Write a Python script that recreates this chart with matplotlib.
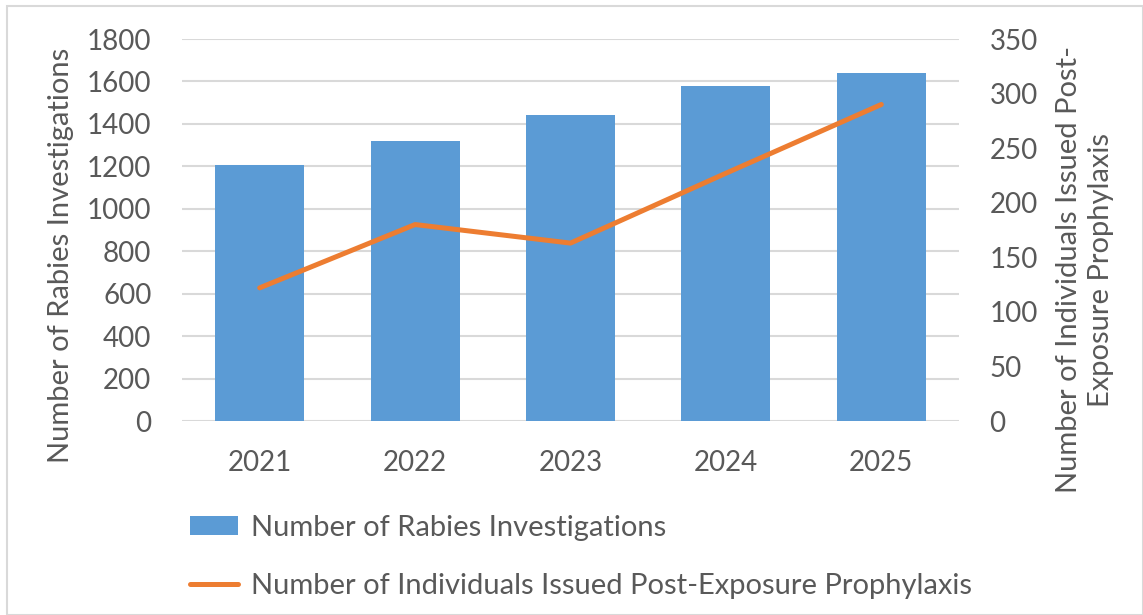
import matplotlib
matplotlib.use('Agg')
import matplotlib.pyplot as plt
from matplotlib.patches import Rectangle

# Data
years = ['2021', '2022', '2023', '2024', '2025']
investigations = [1205, 1320, 1441, 1577, 1638]
pep_issued = [122, 180, 163, 227, 290]

left_ticks = list(range(0, 1801, 200))
right_ticks = list(range(0, 351, 50))

bar_color = '#5B9BD5'
line_color = '#ED7D31'
text_color = '#595959'
grid_color = '#D9D9D9'

plt.rcParams['font.family'] = ['Lato', 'DejaVu Sans']

W, H = 1143, 615
fig = plt.figure(figsize=(W / 100, H / 100), dpi=100)
fig.patch.set_facecolor('white')

ax = fig.add_axes([182 / W, 1 - 421 / H, (959 - 182) / W, (421 - 39) / H])
ax2 = ax.twinx()

x = range(len(years))
bars = ax.bar(x, investigations, width=0.573, color=bar_color, zorder=2,
              label='Number of Rabies Investigations')
line, = ax2.plot(x, pep_issued, color=line_color, linewidth=3.6,
                 solid_capstyle='round', solid_joinstyle='round', zorder=3,
                 label='Number of Individuals Issued Post-Exposure Prophylaxis')

ax.set_xlim(-0.5, len(years) - 0.5)
ax.set_ylim(0, 1800)
ax2.set_ylim(0, 350)
ax.set_yticks(left_ticks)
ax2.set_yticks(right_ticks)
ax.set_xticks(list(x))
ax.set_xticklabels(years)

ax.yaxis.grid(True, color=grid_color, linewidth=1.5, zorder=0)
ax.set_axisbelow(True)

for a in (ax, ax2):
    for s in a.spines.values():
        s.set_visible(False)
    a.tick_params(length=0, labelsize=20, labelcolor=text_color)
ax.tick_params(axis='y', pad=22)
ax2.tick_params(axis='y', pad=22)
ax.tick_params(axis='x', pad=21)

# axis titles
fig.text(61 / W, 1 - 255 / H, 'Number of Rabies Investigations', rotation=90,
         ha='center', va='center', fontsize=21, color=text_color)
fig.text(1085 / W, 1 - 270 / H,
         'Number of Individuals Issued Post-\nExposure Prophylaxis',
         rotation=90, ha='center', va='center', fontsize=21,
         color=text_color, linespacing=1.25)

# legend below the plot
leg = fig.legend(handles=[bars, line], loc='upper left',
                 bbox_to_anchor=(190 / W, 1 - 515 / H), frameon=False,
                 fontsize=21, labelcolor=text_color, handlelength=1.65,
                 handleheight=0.65, handletextpad=0.45, labelspacing=1.1,
                 borderaxespad=0, borderpad=0)

# chart border
fig.patches.append(Rectangle((7 / W, 0), 1 - 7.5 / W, 1 - 6 / H,
                             transform=fig.transFigure, fill=False,
                             edgecolor=grid_color, linewidth=1.5))

fig.savefig('out.png', dpi=100)
